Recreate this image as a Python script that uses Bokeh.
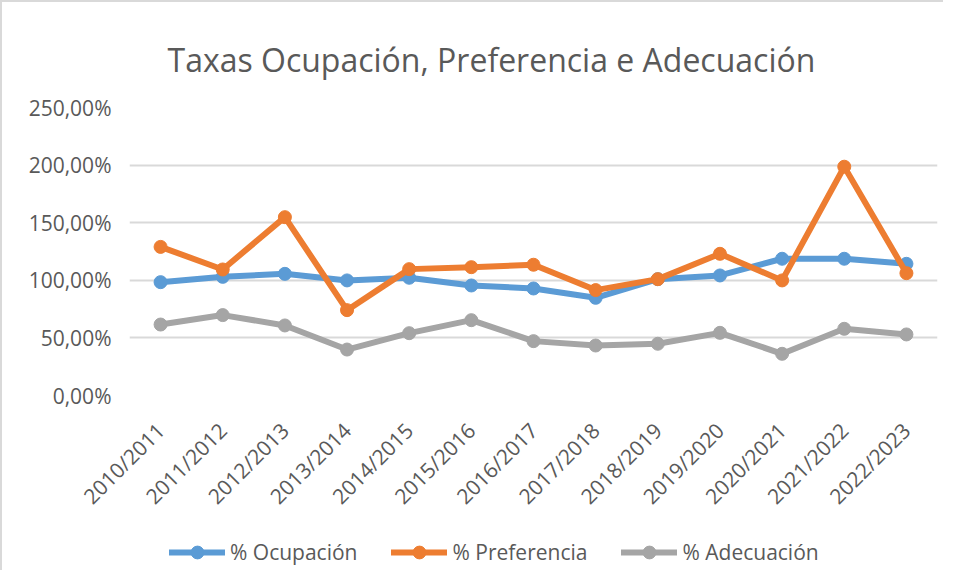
import math
from bokeh.plotting import figure
from bokeh.layouts import column
from bokeh.models import FactorRange, Range1d, FixedTicker, Legend, LegendItem
from bokeh.embed import file_html
from bokeh.resources import INLINE

categories = ["2010/2011", "2011/2012", "2012/2013", "2013/2014", "2014/2015",
              "2015/2016", "2016/2017", "2017/2018", "2018/2019", "2019/2020",
              "2020/2021", "2021/2022", "2022/2023"]
ocupacion = [98.4, 103.0, 105.6, 99.9, 102.2, 95.5, 92.9, 84.8, 101.0, 104.2, 118.7, 118.7, 114.3]
preferencia = [129.0, 109.4, 154.8, 74.1, 109.7, 111.4, 113.5, 91.5, 101.0, 123.0, 99.9, 198.6, 106.2]
adecuacion = [61.6, 69.8, 60.8, 39.9, 54.1, 65.4, 47.2, 43.4, 44.9, 54.4, 36.2, 57.9, 53.0]
y_ticks = [0, 50, 100, 150, 200, 250]
y_tick_labels = ["0,00%", "50,00%", "100,00%", "150,00%", "200,00%", "250,00%"]
series_names = ["% Ocupación", "% Preferencia", "% Adecuación"]
colors = ["#5B9BD5", "#ED7D31", "#A5A5A5"]

FONT = "Open Sans"
TXT = "#595959"
BORDER = "2px solid #d9d9d9"

p = figure(width=943, height=520, x_range=FactorRange(*categories, range_padding=0),
           y_range=Range1d(0, 250), output_backend="svg", toolbar_location=None,
           min_border_left=127, min_border_right=8, min_border_top=105, min_border_bottom=126)
p.styles = {"border-left": BORDER, "border-top": BORDER}
p.outline_line_color = None

p.title.text = "Taxas Ocupación, Preferencia e Adecuación"
p.title.text_font = FONT
p.title.text_font_size = "32px"
p.title.text_font_style = "normal"
p.title.text_color = TXT
p.title.align = "left"
p.title.offset = 38
p.title.standoff = 53

p.xgrid.grid_line_color = None
p.ygrid.grid_line_color = "#d9d9d9"
p.ygrid.grid_line_width = 2
p.yaxis.ticker = FixedTicker(ticks=y_ticks)
p.yaxis.major_label_overrides = {t: l for t, l in zip(y_ticks, y_tick_labels)}
for ax in (p.xaxis[0], p.yaxis[0]):
    ax.axis_line_color = None
    ax.major_tick_line_color = None
    ax.minor_tick_line_color = None
    ax.major_label_text_font = FONT
    ax.major_label_text_color = TXT
p.yaxis.major_label_text_font_size = "21px"
p.xaxis.major_label_text_font_size = "21px"
p.yaxis.major_label_standoff = 12
p.xaxis.major_label_standoff = 25
p.xaxis.major_label_orientation = math.pi / 4

for vals, c in zip([ocupacion, preferencia, adecuacion], colors):
    p.line(categories, vals, line_color=c, line_width=6, line_join="round")
    p.scatter(categories, vals, size=13, fill_color=c, line_color=c)

# legend strip below the chart (its frame is aligned with the chart frame by the column)
lf = figure(width=943, height=50, output_backend="svg", toolbar_location=None,
            x_range=Range1d(0, 1), y_range=Range1d(0, 1),
            min_border_left=127, min_border_right=8, min_border_top=0, min_border_bottom=0)
lf.styles = {"border-left": BORDER}
lf.axis.visible = False
lf.grid.visible = False
lf.outline_line_color = None
nan = float("nan")
items = []
for name, c in zip(series_names, colors):
    r1 = lf.line([nan, nan], [nan, nan], line_color=c, line_width=6, line_cap="round")
    r2 = lf.scatter([nan], [nan], size=13, fill_color=c, line_color=c)
    items.append(LegendItem(label=name, renderers=[r1, r2]))
legend = Legend(items=items, orientation="horizontal", location=(40, 2),
                label_text_font=FONT, label_text_font_size="21px", label_text_color=TXT,
                glyph_width=56, glyph_height=32, label_standoff=5, spacing=34, padding=4,
                margin=0, border_line_color=None, background_fill_alpha=0)
lf.add_layout(legend, "center")

layout = column(p, lf, spacing=0)
open("out.html", "w").write(file_html(layout, INLINE))
